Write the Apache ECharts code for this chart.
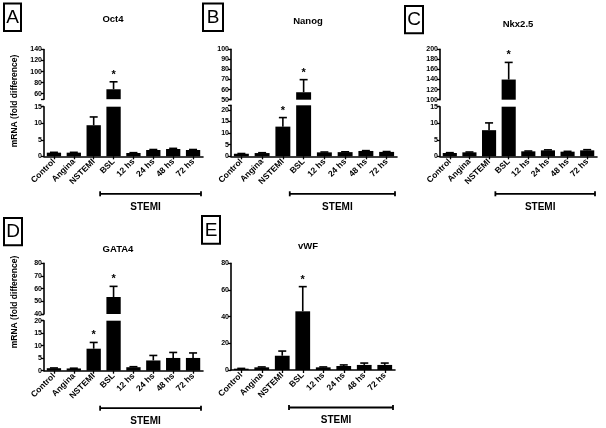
<!DOCTYPE html>
<html><head><meta charset="utf-8">
<script src="https://cdn.jsdelivr.net/npm/echarts@6/dist/echarts.min.js"></script>
<style>html,body{margin:0;padding:0;background:#fff}#c{width:606px;height:428px}</style>
</head><body><div id="c"></div>
<script>
// ---------------- DATA ----------------
const categories = ['Control', 'Angina', 'NSTEMI', 'BSL', '12 hs', '24 hs', '48 hs', '72 hs'];
const stemiGroup = ['BSL', '12 hs', '24 hs', '48 hs', '72 hs'];

const oct4Mean = [1.1, 1.1, 9.4, 68, 1.0, 1.9, 2.2, 1.9];
const oct4Sem  = [0.1, 0.1, 2.5, 13.5, 0.1, 0.15, 0.2, 0.15];
const oct4Star = [0, 0, 0, 1, 0, 0, 0, 0];
const oct4UpperTicks = [60, 80, 100, 120, 140];
const oct4LowerTicks = [0, 5, 10, 15];

const nanogMean = [1.1, 1.4, 12.8, 57.4, 1.7, 1.8, 2.3, 1.9];
const nanogSem  = [0.1, 0.15, 3.9, 12.5, 0.15, 0.15, 0.15, 0.15];
const nanogStar = [0, 0, 1, 1, 0, 0, 0, 0];
const nanogUpperTicks = [50, 60, 70, 80, 90, 100];
const nanogLowerTicks = [0, 5, 10, 15, 20];

const nkxMean = [1.0, 1.2, 7.9, 140, 1.5, 1.8, 1.4, 1.8];
const nkxSem  = [0.1, 0.1, 2.2, 34, 0.1, 0.15, 0.1, 0.2];
const nkxStar = [0, 0, 0, 1, 0, 0, 0, 0];
const nkxUpperTicks = [100, 120, 140, 160, 180, 200];
const nkxLowerTicks = [0, 5, 10, 15];

const gata4Mean = [1.0, 0.9, 8.8, 53.4, 1.4, 4.1, 5.1, 5.1];
const gata4Sem  = [0.1, 0.1, 2.5, 8.4, 0.2, 2.0, 2.2, 2.0];
const gata4Star = [0, 0, 1, 1, 0, 0, 0, 0];
const gata4UpperTicks = [40, 50, 60, 70, 80];
const gata4LowerTicks = [0, 5, 10, 15, 20];

const vwfMean = [1.0, 2.0, 10.7, 44, 2.0, 3.0, 3.8, 3.8];
const vwfSem  = [0.2, 0.3, 3.5, 18.5, 0.3, 0.8, 1.4, 1.4];
const vwfStar = [0, 0, 0, 1, 0, 0, 0, 0];
const vwfTicks = [0, 20, 40, 60, 80];

const yAxisTitle = 'mRNA (fold difference)';
const groupLabel = 'STEMI';

// ---------------- LAYOUT ----------------
const FONT = '"Liberation Sans", Arial, sans-serif';
const panels = [
  { letter: 'A', title: 'Oct4', mean: oct4Mean, sem: oct4Sem, star: oct4Star,
    left: 44, width: 159,
    upper: { top: 49.5, height: 49.7, min: 50, max: 140, ticks: oct4UpperTicks },
    lower: { top: 106.7, height: 49.6, min: 0, max: 15, ticks: oct4LowerTicks },
    box: [4, 3.5, 17, 27.5], titlePos: [113, 19.5], ylabel: [15, 101] },
  { letter: 'B', title: 'Nanog', mean: nanogMean, sem: nanogSem, star: nanogStar,
    left: 231, width: 166,
    upper: { top: 49.3, height: 50.4, min: 50, max: 100, ticks: nanogUpperTicks },
    lower: { top: 105.3, height: 51, min: 0, max: 22, ticks: nanogLowerTicks },
    box: [203, 3.5, 20, 27.5], titlePos: [308, 21] },
  { letter: 'C', title: 'Nkx2.5', mean: nkxMean, sem: nkxSem, star: nkxStar,
    left: 440, width: 157,
    upper: { top: 49.3, height: 50.4, min: 100, max: 200, ticks: nkxUpperTicks },
    lower: { top: 106.7, height: 49.6, min: 0, max: 15, ticks: nkxLowerTicks },
    box: [405, 6, 18, 27.3], titlePos: [518, 24] },
  { letter: 'D', title: 'GATA4', mean: gata4Mean, sem: gata4Sem, star: gata4Star,
    left: 44, width: 159,
    upper: { top: 263.3, height: 50.7, min: 40, max: 80, ticks: gata4UpperTicks },
    lower: { top: 320.7, height: 50, min: 0, max: 20, ticks: gata4LowerTicks },
    box: [4, 218, 18, 27.3], titlePos: [118, 249.7], ylabel: [15, 302] },
  { letter: 'E', title: 'vWF', mean: vwfMean, sem: vwfSem, star: vwfStar,
    left: 231, width: 164,
    single: { top: 263.3, height: 106.7, min: 0, max: 80, ticks: vwfTicks },
    box: [202, 216, 18, 27.7], titlePos: [308, 246.3] }
];

const grids = [], xAxes = [], yAxes = [], series = [], graphics = [];
const tickFont = { color: '#000', fontFamily: FONT, fontWeight: 'bold', fontSize: 7 };

function addGrid(p, seg, showX, extraTicks) {
  const gi = grids.length;
  grids.push({ left: p.left, top: seg.top, width: p.width, height: seg.height });
  xAxes.push({
    type: 'category', gridIndex: gi, data: categories, show: showX, boundaryGap: true,
    axisLine: { show: true, lineStyle: { color: '#000', width: 1.6 } },
    axisTick: { show: true, alignWithLabel: true, length: 3, lineStyle: { color: '#000', width: 1.3 } },
    axisLabel: { interval: 0, rotate: 45, margin: 4, color: '#000', fontFamily: FONT, fontWeight: 'bold', fontSize: 8.5 },
    splitLine: { show: false }
  });
  yAxes.push({
    type: 'value', gridIndex: gi, min: seg.min, max: seg.max,
    axisLine: { show: true, lineStyle: { color: '#000', width: 1.6 } },
    axisTick: { show: true, length: 3, customValues: seg.ticks.concat(extraTicks || []), lineStyle: { color: '#000', width: 1.3 } },
    axisLabel: Object.assign({ customValues: seg.ticks, margin: 2 }, tickFont),
    splitLine: { show: false }
  });
  return gi;
}

function addBars(gi, p, seg) {
  series.push({
    type: 'bar', xAxisIndex: gi, yAxisIndex: gi, barWidth: '72%', clip: true,
    itemStyle: { color: '#000' }, silent: true, animation: false,
    data: p.mean.map(v => (v > seg.min ? v : '-'))
  });
}

function addErrors(gi, p, keep) {
  const data = [];
  p.mean.forEach((m, i) => { if (keep(m)) data.push([i, m, p.sem[i], p.star[i]]); });
  series.push({
    type: 'custom', xAxisIndex: gi, yAxisIndex: gi, z: 5, silent: true, animation: false,
    data: data,
    renderItem: function (params, api) {
      const i = api.value(0), m = api.value(1), s = api.value(2), st = api.value(3);
      const p0 = api.coord([i, m]);
      const p1 = api.coord([i, m + s]);
      const half = 4;
      const st1 = { stroke: '#000', lineWidth: 1.6 };
      const children = [
        { type: 'line', shape: { x1: p0[0], y1: p0[1], x2: p1[0], y2: p1[1] }, style: st1 },
        { type: 'line', shape: { x1: p1[0] - half, y1: p1[1], x2: p1[0] + half, y2: p1[1] }, style: st1 }
      ];
      if (st) children.push({ type: 'text', x: p1[0], y: p1[1] - 7,
        style: { text: '*', fill: '#000', fontFamily: FONT, fontWeight: 'bold', fontSize: 11, align: 'center', verticalAlign: 'middle' } });
      return { type: 'group', children: children };
    }
  });
}

function addBracket(gi) {
  const a = categories.indexOf(stemiGroup[0]);
  const b = categories.indexOf(stemiGroup[stemiGroup.length - 1]);
  series.push({
    type: 'custom', xAxisIndex: gi, yAxisIndex: gi, silent: true, animation: false, clip: false,
    data: [[a, 0, b]],
    renderItem: function (params, api) {
      const pa = api.coord([api.value(0), 0]);
      const pb = api.coord([api.value(2), 0]);
      const band = api.size([1, 0])[0];
      const x0 = pa[0] - band / 2 - 3.5, x1 = pb[0] + band / 2 - 2;
      const y = pa[1] + 37.5;
      const ls = { stroke: '#000', lineWidth: 1.8 };
      return { type: 'group', children: [
        { type: 'line', shape: { x1: x0, y1: y, x2: x1, y2: y }, style: ls },
        { type: 'line', shape: { x1: x0, y1: y - 2.5, x2: x0, y2: y + 2.5 }, style: ls },
        { type: 'line', shape: { x1: x1, y1: y - 2.5, x2: x1, y2: y + 2.5 }, style: ls },
        { type: 'text', x: (x0 + x1) / 2 - 5, y: pa[1] + 50.5,
          style: { text: groupLabel, fill: '#000', fontFamily: FONT, fontWeight: 'bold', fontSize: 10, align: 'center', verticalAlign: 'middle' } }
      ] };
    }
  });
}

panels.forEach(p => {
  if (p.single) {
    const gi = addGrid(p, p.single, true);
    addBars(gi, p, p.single);
    addErrors(gi, p, () => true);
    addBracket(gi);
  } else {
    const gu = addGrid(p, p.upper, false, [p.upper.min]);
    addBars(gu, p, p.upper);
    addErrors(gu, p, m => m > p.upper.min);
    const gl = addGrid(p, p.lower, true, [p.lower.max]);
    addBars(gl, p, p.lower);
    addErrors(gl, p, m => m < p.lower.max);
    addBracket(gl);
  }
  const bx = p.box;
  graphics.push({ type: 'rect', shape: { x: bx[0], y: bx[1], width: bx[2], height: bx[3] },
    style: { fill: 'none', stroke: '#000', lineWidth: 2 } });
  graphics.push({ type: 'text', x: bx[0] + bx[2] / 2, y: bx[1] + bx[3] / 2 + 0.5,
    style: { text: p.letter, fill: '#000', fontFamily: FONT, fontSize: 19, align: 'center', verticalAlign: 'middle' } });
  graphics.push({ type: 'text', x: p.titlePos[0], y: p.titlePos[1],
    style: { text: p.title, fill: '#000', fontFamily: FONT, fontWeight: 'bold', fontSize: 9.5, align: 'center', verticalAlign: 'middle' } });
  if (p.ylabel) {
    graphics.push({ type: 'text', x: p.ylabel[0], y: p.ylabel[1], rotation: Math.PI / 2,
      style: { text: yAxisTitle, fill: '#000', fontFamily: FONT, fontWeight: 'bold', fontSize: 8.5, align: 'center', verticalAlign: 'middle' } });
  }
});

const chart = echarts.init(document.getElementById('c'), null, { renderer: 'canvas' });
chart.setOption({
  animation: false,
  backgroundColor: '#fff',
  grid: grids, xAxis: xAxes, yAxis: yAxes, series: series,
  graphic: graphics
});
</script></body></html>
